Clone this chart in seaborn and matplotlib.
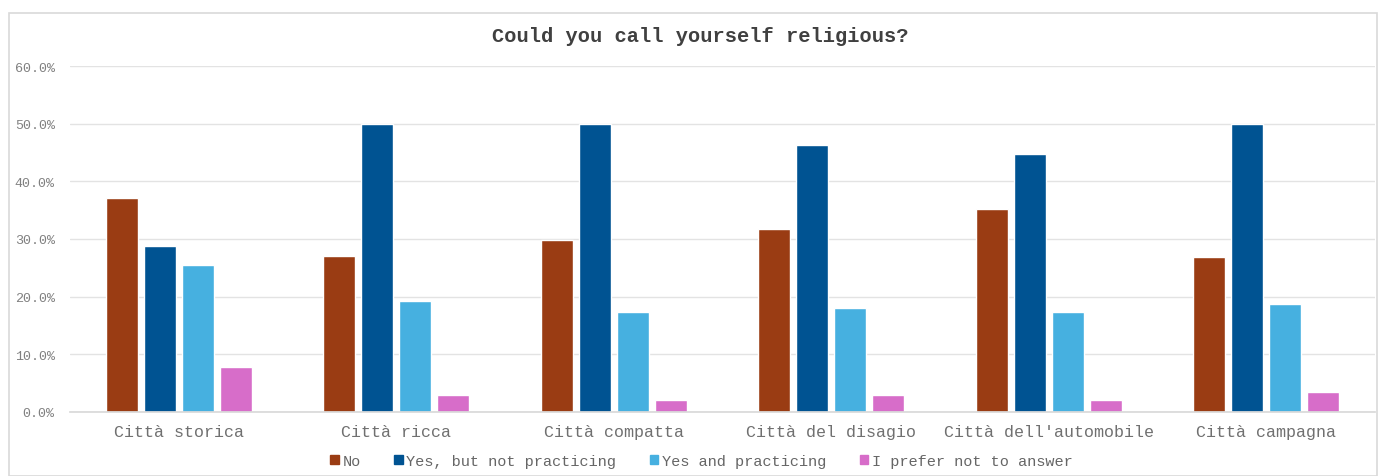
import matplotlib
matplotlib.use("Agg")
import matplotlib.pyplot as plt
import seaborn as sns
import pandas as pd
from matplotlib.patches import Rectangle
from matplotlib.ticker import FuncFormatter

cities = ["Città storica", "Città ricca", "Città compatta", "Città del disagio",
          "Città dell'automobile", "Città campagna"]
answers = ["No", "Yes, but not practicing", "Yes and practicing", "I prefer not to answer"]
no_vals = [37.1, 27.0, 29.8, 31.8, 35.2, 26.8]
yes_not_practicing = [28.7, 49.9, 50.0, 46.3, 44.8, 49.9]
yes_practicing = [25.5, 19.3, 17.4, 18.0, 17.4, 18.8]
prefer_not = [7.8, 3.0, 2.0, 3.0, 2.0, 3.5]
colors = ["#9A3C13", "#005392", "#46B0E0", "#D76DC9"]

series = [no_vals, yes_not_practicing, yes_practicing, prefer_not]
rows = []
for ans, vals in zip(answers, series):
    for c, v in zip(cities, vals):
        rows.append({"city": c, "answer": ans, "value": v})
df = pd.DataFrame(rows)

sns.set_theme(style="white")
plt.rcParams["font.family"] = ["Liberation Mono", "DejaVu Sans Mono"]

fig = plt.figure(figsize=(13.81, 4.77), dpi=100)
ax = fig.add_axes([70 / 1381, 1 - 413 / 477, (1375 - 70) / 1381, (413 - 67) / 477])

sns.barplot(data=df, x="city", y="value", hue="answer", order=cities, hue_order=answers,
            palette=colors, width=0.70, gap=0.16, ax=ax, legend=False, saturation=1)

ax.set_ylim(0, 60)
ax.set_yticks([0, 10, 20, 30, 40, 50, 60])
ax.yaxis.set_major_formatter(FuncFormatter(lambda v, p: f"{v:.1f}%"))
ax.grid(axis="y", color="#E3E3E3", linewidth=1)
ax.set_axisbelow(True)
for s in ["left", "right", "top"]:
    ax.spines[s].set_visible(False)
ax.spines["bottom"].set_color("#D9D9D9")
ax.tick_params(axis="y", labelsize=9.6, colors="#808080", length=0, pad=11)
ax.tick_params(axis="x", labelsize=12, colors="#707070", length=0, pad=9)
ax.set_xlabel("")
ax.set_ylabel("")

fig.text(0.507, 1 - 37 / 477, "Could you call yourself religious?", ha="center", va="center",
         fontsize=14.7, fontweight="bold", color="#404040")

handles = [Rectangle((0, 0), 1, 1, color=c) for c in colors]
fig.legend(handles, answers, loc="center", bbox_to_anchor=(0.508, 1 - 462 / 477), ncol=4,
           frameon=False, fontsize=11, labelcolor="#666666", handlelength=0.55,
           handleheight=0.55, handletextpad=0.25, columnspacing=2.2)

fig.patches.append(Rectangle((9 / 1381, 0), (1377 - 9) / 1381, 1 - 14 / 477, transform=fig.transFigure,
                             fill=False, edgecolor="#D9D9D9", linewidth=1.2))

fig.savefig("out.png", dpi=100, facecolor="white")
